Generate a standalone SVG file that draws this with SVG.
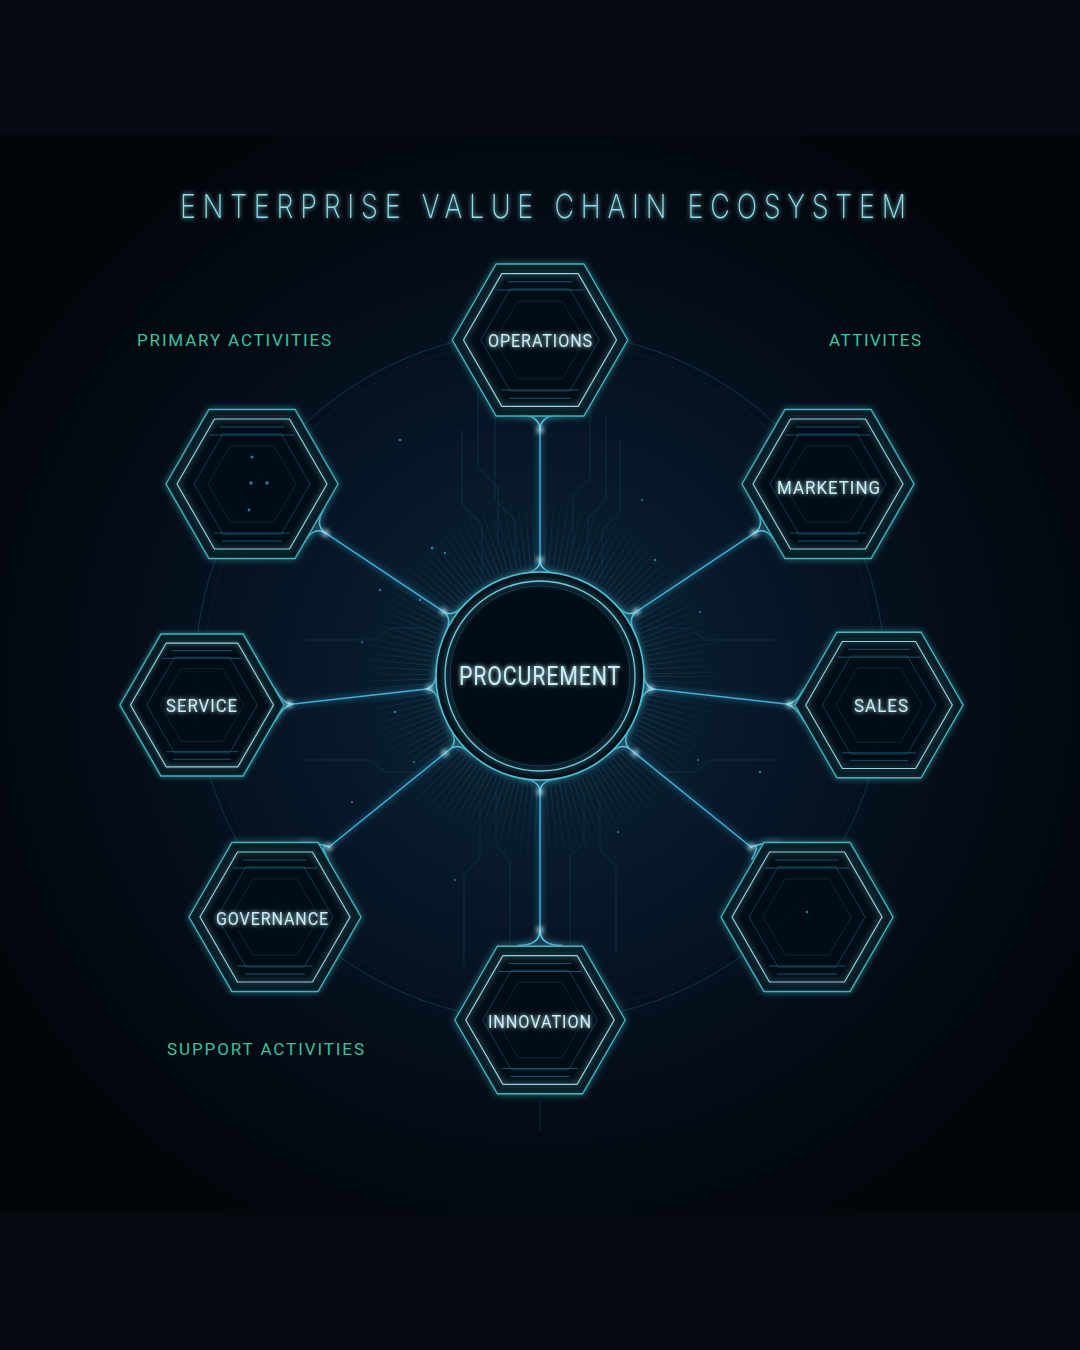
<svg xmlns="http://www.w3.org/2000/svg" xmlns:xlink="http://www.w3.org/1999/xlink" width="1080" height="1350" viewBox="0 0 1080 1350">
<defs>
<style>
.ho{fill:#030e17;fill-opacity:0.85;stroke:#3db5c2;stroke-width:1.4}
.hi{fill:none;stroke:#8fd3dd;stroke-width:1.2}
.h3{fill:none;stroke:#1b5c78;stroke-width:1;opacity:0.6}
.h4{fill:none;stroke:#143f57;stroke-width:1;opacity:0.5}
.deco line{stroke:#1d6485;stroke-width:1;opacity:0.8}
.lbl{font-family:Roboto,"Liberation Sans","DejaVu Sans",sans-serif;font-size:18px;fill:#c6eef4;letter-spacing:1px}
.cat{font-family:Roboto,"Liberation Sans",sans-serif;font-size:17px;fill:#39c3a0;letter-spacing:3px}
.conn{fill:none;stroke:#3ab0d8;stroke-width:1.5;stroke-linecap:round}
.fil{fill:none;stroke:#5cc8e6;stroke-width:1.4}
.spark{fill:#c8f6ff}
.trace{fill:none;stroke:#0f3d57;stroke-width:1;opacity:0.6}
.dot{fill:#3ea6d6;opacity:0.7}
</style>
<radialGradient id="bgGlow" gradientUnits="userSpaceOnUse" cx="540" cy="680" r="620">
<stop offset="0" stop-color="#0b2434"/>
<stop offset="0.35" stop-color="#07182a"/>
<stop offset="0.7" stop-color="#040c16"/>
<stop offset="1" stop-color="#02060b"/>
</radialGradient>
<radialGradient id="burst" gradientUnits="userSpaceOnUse" cx="540" cy="676" r="190">
<stop offset="0.55" stop-color="#2f86ad" stop-opacity="0.3"/>
<stop offset="1" stop-color="#2f86ad" stop-opacity="0"/>
</radialGradient>
<filter id="glow" x="-30%" y="-30%" width="160%" height="160%">
<feGaussianBlur stdDeviation="3" result="b"/>
<feMerge><feMergeNode in="b"/><feMergeNode in="SourceGraphic"/></feMerge>
</filter>
<filter id="tglow" x="-20%" y="-50%" width="140%" height="200%">
<feGaussianBlur stdDeviation="2" result="b"/>
<feMerge><feMergeNode in="b"/><feMergeNode in="SourceGraphic"/></feMerge>
</filter>
<filter id="soft" x="-100%" y="-100%" width="300%" height="300%">
<feGaussianBlur stdDeviation="2.5"/>
</filter>
<polygon id="hO" vector-effect="non-scaling-stroke" points="-86,0 -43,-74.5 43,-74.5 86,0 43,74.5 -43,74.5"/>
<polygon id="hI" vector-effect="non-scaling-stroke" points="-75,0 -37.5,-65 37.5,-65 75,0 37.5,65 -37.5,65"/>
<polygon id="h3" vector-effect="non-scaling-stroke" points="-58,0 -29,-50.2 29,-50.2 58,0 29,50.2 -29,50.2"/>
<polygon id="h4" vector-effect="non-scaling-stroke" points="-44,0 -22,-38.1 22,-38.1 44,0 22,38.1 -22,38.1"/>
<g id="deco" class="deco">
<line x1="-32" y1="-57" x2="32" y2="-57"/>
<line x1="-42" y1="-49" x2="42" y2="-49" opacity="0.5"/>
<line x1="-38" y1="49" x2="38" y2="49" opacity="0.5"/>
<line x1="-30" y1="57" x2="30" y2="57"/>
</g>
<g id="hex">
<use href="#hO" class="ho" filter="url(#glow)"/>
<use href="#h4" class="h4"/>
<use href="#h3" class="h3"/>
<use href="#deco"/>
<use href="#hI" class="hi" filter="url(#glow)"/>
</g>
</defs>

<!-- background -->
<rect x="0" y="0" width="1080" height="1350" fill="#02060b"/>
<rect x="0" y="135" width="1080" height="1080" fill="url(#bgGlow)"/>
<rect x="0" y="0" width="1080" height="135" fill="#060a11"/>
<rect x="0" y="1215" width="1080" height="135" fill="#060a11"/>

<!-- background decoration -->
<g id="backdrop">
<circle cx="540" cy="676" r="345" fill="none" stroke="#1a4c66" stroke-width="1" opacity="0.6"/>
<circle cx="540" cy="676" r="336" fill="none" stroke="#143c52" stroke-width="0.7" opacity="0.35"/>
<circle cx="540" cy="676" r="150" fill="none" stroke="url(#burst)" stroke-width="80" stroke-dasharray="0.8 5.5"/>
<path class="trace" d="M478,392 V468 L498,488 V545"/>
<path class="trace" d="M495,405 V500 L515,520 V556"/>
<path class="trace" d="M462,430 V505 L482,525 V575"/>
<path class="trace" d="M590,398 V478 L573,495 V545"/>
<path class="trace" d="M606,418 V500 L588,518 V560"/>
<path class="trace" d="M620,440 V512 L602,530 V578"/>
<path class="trace" d="M480,800 V858 L464,874 V965"/>
<path class="trace" d="M496,792 V845 L510,860 V950"/>
<path class="trace" d="M600,800 V850 L616,866 V955"/>
<path class="trace" d="M584,792 V842 L570,856 V945"/>
<path class="trace" d="M540,1100 V1130" opacity="0.5"/>
<path class="trace" d="M300,640 H375 L390,628 H425"/>
<path class="trace" d="M305,760 H370 L385,772 H430"/>
<path class="trace" d="M780,640 H705 L690,628 H655"/>
<path class="trace" d="M775,760 H710 L695,772 H650"/>
<circle class="dot" cx="400" cy="440" r="1.3"/>
<circle class="dot" cx="432" cy="548" r="1.5"/>
<circle class="dot" cx="445" cy="553" r="1.2"/>
<circle class="dot" cx="380" cy="590" r="1.2"/>
<circle class="dot" cx="362" cy="642" r="1.1"/>
<circle class="dot" cx="395" cy="712" r="1.3"/>
<circle class="dot" cx="414" cy="762" r="1.1"/>
<circle class="dot" cx="655" cy="560" r="1.2"/>
<circle class="dot" cx="700" cy="612" r="1.1"/>
<circle class="dot" cx="760" cy="772" r="1.2"/>
<circle class="dot" cx="642" cy="500" r="1.1"/>
<circle class="dot" cx="352" cy="802" r="1.1"/>
<circle class="dot" cx="698" cy="760" r="1.1"/>
<circle class="dot" cx="420" cy="600" r="1.2"/>
<circle class="dot" cx="618" cy="832" r="1.1"/>
<circle class="dot" cx="455" cy="880" r="1.1"/>
</g>

<!-- connectors -->
<g id="connectors" filter="url(#glow)">
<path class="conn" d="M540,560 V430"/>
<path class="fil" d="M540,430 Q540,415 518,414.5 M540,430 Q540,415 562,414.5"/>
<path class="fil" d="M540,560 Q540,572 520.2,573.9 M540,560 Q540,572 559.8,573.9"/>
<path class="conn" d="M540,792 V930"/>
<path class="fil" d="M540,930 Q540,945.5 518,945.5 M540,930 Q540,945.5 562,945.5"/>
<path class="fil" d="M540,792 Q540,780 520.2,778.1 M540,792 Q540,780 559.8,778.1"/>
<path class="conn" d="M443.5,611.6 L325.7,533.2"/>
<path class="fil" d="M325.7,533.2 Q314.1,525.4 304.1,542.7 M325.7,533.2 Q314.1,525.4 324.1,508.1"/>
<path class="fil" d="M443.5,611.6 Q453.5,618.3 444.1,635.9 M443.5,611.6 Q453.5,618.3 466.1,602.8"/>
<path class="conn" d="M636.5,611.6 L754.3,533.2"/>
<path class="fil" d="M754.3,533.2 Q765.9,525.4 775.9,542.7 M754.3,533.2 Q765.9,525.4 755.9,508.1"/>
<path class="fil" d="M636.5,611.6 Q626.5,618.3 635.9,635.9 M636.5,611.6 Q626.5,618.3 613.9,602.8"/>
<path class="conn" d="M424.8,689.2 L293,704"/>
<path class="fil" d="M293,704 Q284,705 275,688.5 M293,704 Q284,705 275,721.5"/>
<path class="fil" d="M424.8,689.2 Q436.7,687.9 440.8,707.4 M424.8,689.2 Q436.7,687.9 436.3,667.9"/>
<path class="conn" d="M655.2,689.3 L786,704"/>
<path class="fil" d="M786,704 Q795,705 804,688.5 M786,704 Q795,705 804,721.5"/>
<path class="fil" d="M655.2,689.3 Q643.3,687.9 639.1,707.4 M655.2,689.3 Q643.3,687.9 643.7,668"/>
<path class="conn" d="M450,749.2 L329,847"/>
<path class="fil" d="M329,847 Q318.5,842.5 300,842.5 M329,847 Q318.5,842.5 328.5,859.8"/>
<path class="fil" d="M450,749.2 Q459.3,741.6 448.3,725 M450,749.2 Q459.3,741.6 473.3,755.8"/>
<path class="conn" d="M630,749.2 L751,847"/>
<path class="fil" d="M751,847 Q761.5,842.5 780,842.5 M751,847 Q761.5,842.5 751.5,859.8"/>
<path class="fil" d="M630,749.2 Q620.7,741.6 631.7,725 M630,749.2 Q620.7,741.6 606.7,755.8"/>
</g>
<g id="sparks" filter="url(#soft)">
<circle class="spark" cx="540" cy="430" r="3"/>
<circle class="spark" cx="540" cy="560" r="3"/>
<circle class="spark" cx="540" cy="930" r="3"/>
<circle class="spark" cx="540" cy="792" r="3"/>
<circle class="spark" cx="325.7" cy="533.2" r="3"/>
<circle class="spark" cx="443.5" cy="611.6" r="3"/>
<circle class="spark" cx="754.3" cy="533.2" r="3"/>
<circle class="spark" cx="636.5" cy="611.6" r="3"/>
<circle class="spark" cx="289" cy="704" r="3"/>
<circle class="spark" cx="430" cy="688.5" r="3"/>
<circle class="spark" cx="790" cy="704" r="3"/>
<circle class="spark" cx="650" cy="688.5" r="3"/>
<circle class="spark" cx="329" cy="847" r="3"/>
<circle class="spark" cx="445" cy="753" r="3"/>
<circle class="spark" cx="751" cy="847" r="3"/>
<circle class="spark" cx="635" cy="753" r="3"/>
</g>

<!-- center node -->
<g id="node-procurement">
<circle cx="540" cy="676" r="104" fill="#030d16" stroke="#4cc4da" stroke-width="1.6" filter="url(#glow)"/>
<circle cx="540" cy="676" r="95" fill="none" stroke="#6fcadd" stroke-width="1.3" filter="url(#glow)"/>
<circle cx="540" cy="676" r="90" fill="none" stroke="#1b5874" stroke-width="1" opacity="0.6"/>
<text class="lbl" x="459" y="685" textLength="162" lengthAdjust="spacingAndGlyphs" filter="url(#tglow)" style="font-size:26px">PROCUREMENT</text>
</g>

<!-- hex nodes -->
<g id="node-operations">
<use href="#hex" transform="translate(540,340) scale(1.02)"/>
<text class="lbl" x="488" y="347" textLength="105" lengthAdjust="spacingAndGlyphs" filter="url(#tglow)">OPERATIONS</text>
</g>
<g id="node-topleft">
<use href="#hex" transform="translate(252,484)"/>
<circle class="dot" cx="252" cy="457" r="1.6"/>
<circle class="dot" cx="251" cy="483" r="1.8"/>
<circle class="dot" cx="267" cy="483" r="1.8"/>
<circle class="dot" cx="249" cy="510" r="1.4" opacity="0.5"/>
</g>
<g id="node-marketing">
<use href="#hex" transform="translate(828,484)"/>
<text class="lbl" x="777" y="494" textLength="104" lengthAdjust="spacingAndGlyphs" filter="url(#tglow)">MARKETING</text>
</g>
<g id="node-service">
<use href="#hex" transform="translate(202,705) scale(0.953)"/>
<text class="lbl" x="166" y="712" textLength="72" lengthAdjust="spacingAndGlyphs" filter="url(#tglow)">SERVICE</text>
</g>
<g id="node-sales">
<use href="#hex" transform="translate(879,705) scale(0.977)"/>
<text class="lbl" x="854" y="712" textLength="55" lengthAdjust="spacingAndGlyphs" filter="url(#tglow)">SALES</text>
</g>
<g id="node-governance">
<use href="#hex" transform="translate(275,917)"/>
<text class="lbl" x="216" y="925" textLength="113" lengthAdjust="spacingAndGlyphs" filter="url(#tglow)">GOVERNANCE</text>
</g>
<g id="node-bottomright">
<use href="#hex" transform="translate(807,917)"/>
<circle class="dot" cx="807" cy="912" r="1.2" opacity="0.5"/>
</g>
<g id="node-innovation">
<use href="#hex" transform="translate(540,1020) scale(0.99)"/>
<text class="lbl" x="488" y="1028" textLength="104" lengthAdjust="spacingAndGlyphs" filter="url(#tglow)">INNOVATION</text>
</g>

<!-- titles -->
<g id="labels">
<g transform="scale(1,1.22)">
<text x="180" y="178.7" textLength="726" lengthAdjust="spacing" font-family="Inter, 'DejaVu Sans', Roboto, sans-serif" font-weight="200" font-size="27" fill="#8fdfeb" filter="url(#tglow)">ENTERPRISE VALUE CHAIN ECOSYSTEM</text>
</g>
<text class="cat" x="137" y="346" textLength="197" lengthAdjust="spacing">PRIMARY ACTIVITIES</text>
<text class="cat" x="829" y="346" textLength="95" lengthAdjust="spacing">ATTIVITES</text>
<text class="cat" x="167" y="1055" textLength="200" lengthAdjust="spacing">SUPPORT ACTIVITIES</text>
</g>
</svg>
